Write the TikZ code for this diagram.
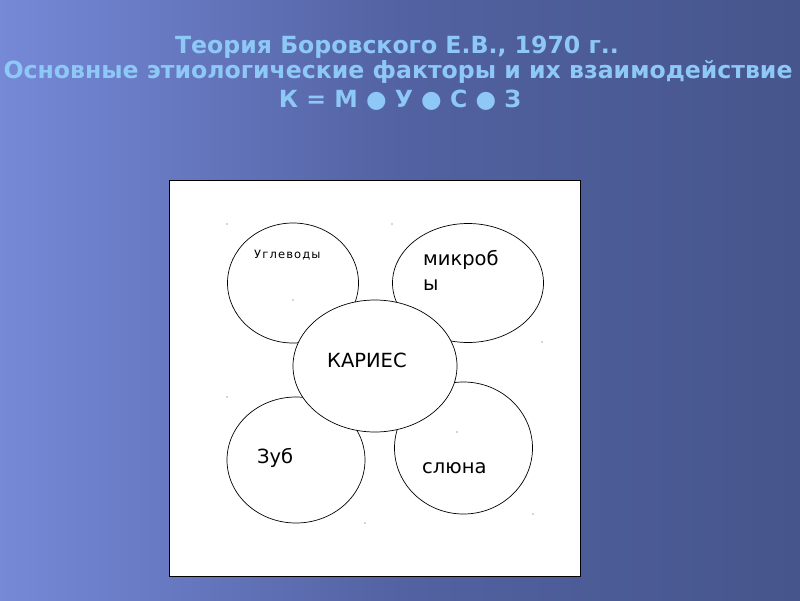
\documentclass[tikz,border=0pt]{standalone}
\usepackage{fontspec}
\setmainfont{DejaVu Sans}
\usepackage{tikz}
\usetikzlibrary{shapes.geometric}
\definecolor{titleblue}{RGB}{142,200,246}
\definecolor{bgA}{RGB}{128,148,230}
\definecolor{bgB}{RGB}{82,98,162}
\definecolor{bgC}{RGB}{58,72,116}
\pgfdeclarehorizontalshading{bgshade}{100bp}{color(0bp)=(bgA); color(18bp)=(bgA); color(50bp)=(bgB); color(100bp)=(bgC)}

\begin{document}
\begin{tikzpicture}[x=1pt, y=-1pt,
    krug/.style={draw, ellipse, fill=white, line width=0.7pt, inner sep=0pt},
    metka/.style={anchor=base west, inner sep=0pt, font=\fontsize{19.5}{25}\selectfont},
    zag/.style={anchor=base, inner sep=0pt, text=titleblue, font=\bfseries\fontsize{23.6}{28}\selectfont}]
    \useasboundingbox (0,0) rectangle (800,600);
    \shade[shading=bgshade] (0,0) rectangle (800,600); % фон

    \node[zag] (t1) at (397,53) {Теория Боровского Е.В., 1970 г..}; % заголовок
    \node[zag] (t2) at (398,78) {Основные этиологические факторы и их взаимодействие};
    \node[zag] (t3) at (400,107) {К = М ● У ● С ● З};

    \draw[fill=white, line width=0.8pt] (169,180) rectangle (580,576); % лист

    \node[krug, minimum width=131pt, minimum height=120pt] (ugl) at (293,283) {}; % углеводы
    \node[krug, minimum width=151pt, minimum height=119pt] (mik) at (468,283) {}; % микробы
    \node[krug, minimum width=138pt, minimum height=126pt] (zub) at (296,460) {}; % зуб
    \node[krug, minimum width=138pt, minimum height=132pt] (sl) at (463.5,448) {}; % слюна
    \node[krug, minimum width=164pt, minimum height=132pt] (kar) at (375,366) {}; % кариес сверху

    \foreach \px/\py in {227/224, 392/224, 293/300, 542/342, 227/397, 365/523, 457/432, 533/514}
      \fill[black!70] (\px,\py) circle (0.6pt); % точки-маркеры

    \node[anchor=base west, inner sep=0pt, font=\fontsize{11.5}{13}\selectfont\addfontfeature{LetterSpace=10}] (tugl) at (254,258.3) {Углеводы};
    \node[metka] (tmik) at (423,265) {микроб};
    \node[metka] (tmik2) at (423,290) {ы};
    \node[metka] (tkar) at (327,367) {КАРИЕС};
    \node[metka] (tzub) at (257,463) {Зуб};
    \node[metka] (tsl) at (422,473) {слюна};
\end{tikzpicture}
\end{document}
